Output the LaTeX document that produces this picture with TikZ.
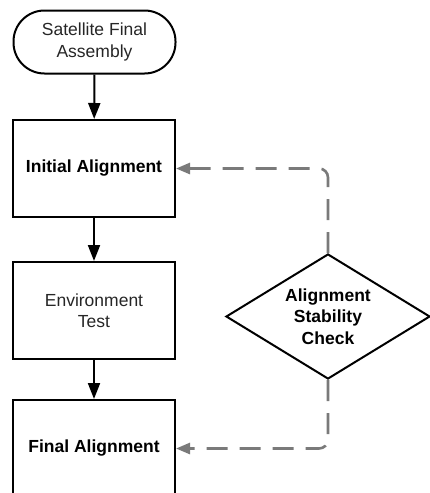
\documentclass[tikz,border=0pt]{standalone}
\usepackage{fontspec}
\setmainfont{Liberation Sans}
\usetikzlibrary{shapes.geometric,arrows.meta}
\definecolor{dashgray}{HTML}{7A7A7A}
\definecolor{txtgray}{HTML}{262626}
\begin{document}
\begin{tikzpicture}[x=1pt,y=-1pt,
  every node/.style={font=\fontsize{17.5}{21.5}\selectfont, align=center, inner sep=0pt},
  box/.style={draw=black, line width=2pt, rectangle, minimum width=162pt, minimum height=97pt},
  term/.style={draw=black, line width=2pt, rectangle, rounded corners=31pt, minimum width=162pt, minimum height=63pt},
  dec/.style={draw=black, line width=2pt, diamond, aspect=1.632, minimum width=204pt, minimum height=125pt},
  flow/.style={line width=2pt, draw=black, -{Triangle[length=16pt,width=12pt]}},
  fb/.style={line width=2.6pt, draw=dashgray, dash pattern=on 21pt off 12pt, rounded corners=9pt, -{Triangle[length=14pt,width=11pt]}}
]
\useasboundingbox (0,0) rectangle (430,493);
\node[term, text=txtgray] (start) at (94.5,42) {Satellite Final\\Assembly};
\node[box, font=\fontsize{17.5}{21.5}\selectfont\bfseries] (init) at (94,168.5) {Initial Alignment};
\node[box, text=txtgray] (env) at (94,310.5) {Environment\\Test};
\node[box, font=\fontsize{17.5}{21.5}\selectfont\bfseries] (final) at (94,448.5) {Final Alignment};
\node[dec, font=\fontsize{17.5}{21.5}\selectfont\bfseries] (chk) at (328,316.5) {Alignment\\Stability\\Check};
\draw[flow] (start) -- (init);
\draw[flow] (init) -- (env);
\draw[flow] (env) -- (final);
\draw[fb] (chk.north) |- (init.east);
\draw[fb] (chk.south) |- (final.east);
\end{tikzpicture}
\end{document}
